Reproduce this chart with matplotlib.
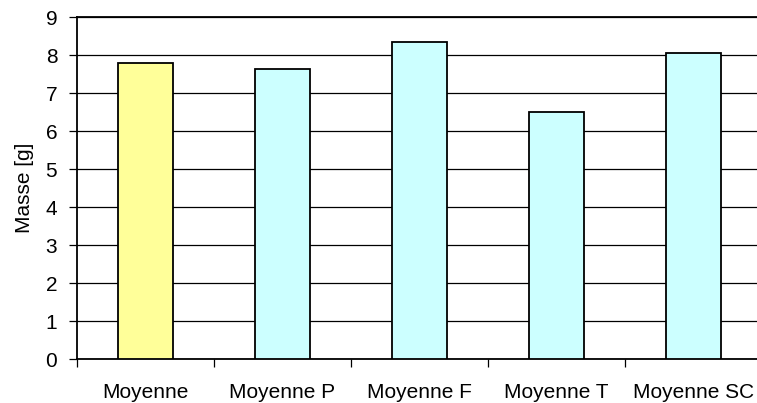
import numpy as np
import matplotlib
matplotlib.use("Agg")
from matplotlib import pyplot as plt

# mean masses per group
categories = ["Moyenne", "Moyenne P", "Moyenne F", "Moyenne T", "Moyenne SC"]
masses = [7.80, 7.63, 8.36, 6.52, 8.05]
bar_colors = ["#FFFF99", "#CCFFFF", "#CCFFFF", "#CCFFFF", "#CCFFFF"]
yticks = list(range(0, 10))

plt.rcParams["font.family"] = ["Liberation Sans", "DejaVu Sans"]
plt.rcParams["font.size"] = 15

W, H = 757, 403
fig = plt.figure(figsize=(W / 100, H / 100), dpi=100)
# plot area: left 76.7 px, 137 px per category, bottom at 359.3 px, top at 17.3 px
ax = fig.add_axes([76.7 / W, (H - 359.3) / H, 685 / W, 342 / H])

x = np.arange(len(categories))
ax.bar(x, masses, width=0.4, color=bar_colors, edgecolor="black",
       linewidth=1.3, zorder=3)

ax.set_xlim(-0.5, len(categories) - 0.5)
ax.set_ylim(0, 9)
ax.set_yticks(yticks)
ax.yaxis.grid(True, color="black", linewidth=0.9, zorder=0)

ax.set_xticks(x)
ax.set_xticklabels(categories)
ax.set_xticks(np.arange(len(categories)) - 0.5, minor=True)
ax.tick_params(axis="x", which="major", length=0, pad=17)
ax.tick_params(axis="x", which="minor", length=6, width=0.9, direction="out")
ax.tick_params(axis="y", length=6, width=0.9, direction="out", pad=8)

ax.set_ylabel("Masse [g]", labelpad=8)

for side in ["left", "bottom", "top"]:
    ax.spines[side].set_linewidth(1.3)
ax.spines["right"].set_visible(False)

fig.savefig("out.png", dpi=100)
